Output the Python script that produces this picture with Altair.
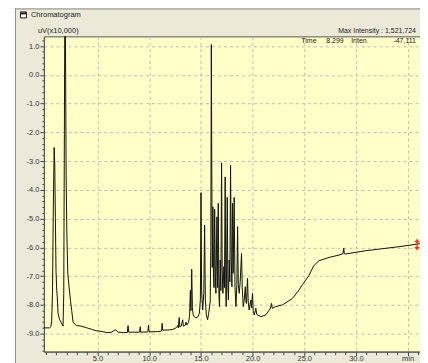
import altair as alt
import pandas as pd

# ---- chromatogram data (time in min, intensity in uV x10,000) ----
times = [
    -0.19, 0.35, 0.48, 0.56, 0.64, 0.72, 0.80, 0.86, 0.92, 0.98, 1.05, 1.10, 1.18, 1.32, 1.50,
    1.66, 1.73, 1.79, 1.84, 1.90, 1.96, 2.03, 2.12, 2.25, 2.38, 2.50, 2.63, 2.95, 3.30, 3.90,
    4.50, 4.90, 5.50, 5.90, 6.30, 6.55, 6.75, 7.00, 7.50, 7.88, 7.95, 8.02, 8.60, 9.07, 9.13,
    9.19, 9.87, 9.93, 9.99, 10.80, 11.19, 11.25, 11.31, 11.96, 12.30, 12.60, 12.76, 12.82, 12.90, 12.96,
    13.10, 13.24, 13.30, 13.50, 13.56, 13.62, 13.80, 13.90, 13.98, 14.04, 14.11, 14.18, 14.25, 14.36, 14.50,
    14.70, 14.85, 14.95, 15.01, 15.07, 15.17, 15.28, 15.36, 15.43, 15.52, 15.65, 15.75, 15.90, 15.96, 16.01,
    16.05, 16.10, 16.16, 16.22, 16.27, 16.33, 16.40, 16.45, 16.55, 16.61, 16.68, 16.74, 16.80, 16.87, 16.93,
    17.00, 17.06, 17.13, 17.22, 17.28, 17.35, 17.41, 17.45, 17.55, 17.61, 17.66, 17.74, 17.80, 17.87, 17.94,
    18.00, 18.06, 18.12, 18.22, 18.30, 18.39, 18.48, 18.55, 18.62, 18.71, 18.80, 18.93, 19.00, 19.10, 19.20,
    19.30, 19.36, 19.41, 19.51, 19.58, 19.67, 19.75, 19.83, 19.90, 19.99, 20.06, 20.16, 20.32, 20.40, 20.48,
    20.80, 21.28, 21.70, 21.76, 21.83, 21.90, 22.24, 22.89, 23.85, 24.50, 24.82, 25.45, 25.90, 26.40, 27.40,
    28.36, 28.75, 28.82, 28.88, 29.00, 30.90, 32.50, 34.10, 35.70, 36.20,
]
intensity = [
    -8.80, -8.80, -8.76, -8.58, -7.60, -4.60, -2.53, -3.10, -5.00, -6.80, -7.50, -7.70, -8.30, -8.50, -8.63,
    -8.74, -7.60, -2.00, 3.00, 1.00, -3.50, -5.50, -6.90, -7.40, -7.85, -8.20, -8.60, -8.72, -8.73, -8.79,
    -8.86, -8.90, -8.93, -8.96, -8.96, -8.90, -8.87, -8.95, -8.96, -8.96, -8.72, -8.95, -8.95, -8.95, -8.76,
    -8.95, -8.94, -8.71, -8.94, -8.93, -8.91, -8.64, -8.88, -8.87, -8.85, -8.80, -8.72, -8.80, -8.44, -8.77,
    -8.74, -8.52, -8.74, -8.70, -8.60, -8.70, -8.62, -8.40, -7.50, -8.20, -6.76, -8.10, -8.35, -8.41, -8.45,
    -8.42, -8.30, -7.80, -4.10, -7.50, -8.18, -7.60, -5.23, -7.80, -8.35, -8.52, -8.30, -7.90, -6.00, 1.05,
    -3.00, -6.70, -4.59, -6.90, -7.40, -4.67, -7.00, -7.60, -4.94, -7.40, -4.47, -7.60, -8.06, -6.44, -7.50,
    -3.06, -6.80, -7.60, -6.67, -7.40, -3.55, -7.50, -8.06, -4.26, -7.40, -7.83, -6.44, -7.20, -3.15, -6.50,
    -7.37, -4.47, -6.90, -4.26, -7.40, -8.06, -7.30, -5.28, -7.30, -7.60, -7.20, -6.21, -7.40, -8.06, -7.80,
    -7.37, -7.90, -7.95, -7.08, -7.90, -8.18, -8.00, -7.83, -8.10, -7.60, -8.20, -8.35, -8.12, -8.33, -8.35,
    -8.41, -8.35, -8.14, -8.05, -7.95, -8.12, -8.06, -8.00, -7.78, -7.48, -7.30, -6.98, -6.65, -6.47, -6.35,
    -6.27, -6.22, -6.03, -6.22, -6.23, -6.12, -6.05, -5.98, -5.90, -5.87,
]

cursor_times = [35.92, 35.92]
cursor_values = [-5.80, -6.01]

x_tick_values = list(range(0, 37))
y_tick_values = [round(-9.6 + 0.2 * i, 1) for i in range(55)]

X_DOMAIN = [-0.19, 36.2]
Y_DOMAIN = [-9.625, 1.337]
W, H = 377, 316
FONT = "Liberation Sans"

df = pd.DataFrame({"t": times, "v": intensity})
cur = pd.DataFrame({"t": cursor_times, "v": cursor_values})
one = pd.DataFrame({"a": [0]})

xscale = alt.Scale(domain=X_DOMAIN, nice=False, zero=False)
yscale = alt.Scale(domain=Y_DOMAIN, nice=False, zero=False)

x_major = "datum.value % 5 == 0 && datum.value > 0"
y_major = "abs(datum.value - round(datum.value)) < 0.001"

x_axis = alt.Axis(
    values=x_tick_values,
    tickCount=500,
    title=None,
    labelExpr="datum.value == 35 ? 'min' : ((datum.value % 5 == 0 && datum.value > 0) ? format(datum.value, '.1f') : '')",
    labelOverlap=False,
    labelFlush=False,
    labelFont=FONT, labelFontSize=7.5, labelColor="#333333", labelPadding=-1,
    tickSize={"condition": {"test": x_major, "value": 4}, "value": 3},
    tickColor="#444444",
    grid=True,
    gridDash=[3, 3], gridColor="#bdbdbd",
    gridOpacity={"condition": {"test": x_major, "value": 1}, "value": 0},
    domainColor="#555555",
)
y_axis = alt.Axis(
    values=y_tick_values,
    tickCount=500,
    title=None,
    labelExpr="abs(datum.value - round(datum.value)) < 0.001 ? ((datum.value < -0.001 ? '-' : '') + format(abs(datum.value), '.1f')) : ''",
    labelOverlap=False,
    labelFlush=False,
    labelFont=FONT, labelFontSize=7.5, labelColor="#333333", labelPadding=1,
    tickSize={"condition": {"test": y_major, "value": 4}, "value": 2},
    tickColor="#444444",
    grid=True,
    gridDash=[3, 3], gridColor="#bdbdbd",
    gridOpacity={"condition": {"test": y_major, "value": 1}, "value": 0},
    domainColor="#555555",
)

line = alt.Chart(df).mark_line(color="#111111", strokeWidth=1, clip=True).encode(
    x=alt.X("t:Q", scale=xscale, axis=x_axis),
    y=alt.Y("v:Q", scale=yscale, axis=y_axis),
)

cursor = alt.Chart(cur).mark_point(
    shape="M-1,0H1M0,-1V1", filled=False, color="#ff2020", size=22, strokeWidth=1.5, opacity=1
).encode(x=alt.X("t:Q", scale=xscale), y=alt.Y("v:Q", scale=yscale))

# ---- window decoration (frame, title bar) ----
white_left = alt.Chart(one).mark_rect(color="white").encode(
    x=alt.value(-36), x2=alt.value(-29), y=alt.value(-28), y2=alt.value(H + 12)
)
border_left = alt.Chart(one).mark_rule(color="#8c8c8c", strokeWidth=1).encode(
    x=alt.value(-28.5), y=alt.value(-28), y2=alt.value(H + 12)
)
border_top = alt.Chart(one).mark_rule(color="#8c8c8c", strokeWidth=1).encode(
    x=alt.value(-29), x2=alt.value(W + 8), y=alt.value(-27.5)
)
icon = alt.Chart(one).mark_rect(fill="white", stroke="#222222", strokeWidth=1).encode(
    x=alt.value(-23.5), x2=alt.value(-17.5), y=alt.value(-24.5), y2=alt.value(-18.5)
)
icon_bar = alt.Chart(one).mark_rule(color="#222222", strokeWidth=2).encode(
    x=alt.value(-23.5), x2=alt.value(-17.5), y=alt.value(-23)
)


def label(text, x, y, align="left", size=7.5):
    return alt.Chart(one).mark_text(
        text=text, align=align, baseline="alphabetic", font=FONT, fontSize=size, color="#222222"
    ).encode(x=alt.value(x), y=alt.value(y))


texts = [
    label("Chromatogram", -13, -19),
    label("uV(x10,000)", -6, -3),
    label("Max Intensity : 1,521,724", 373, -3.5, "right", 7),
    label("Time", 258, 6.5, size=7),
    label("8.299", 283, 6.5, size=7),
    label("Inten.", 308, 6.5, size=7),
    label("-47,111", 373, 6.5, "right", 7),
]

chart = alt.layer(
    white_left, border_left, border_top, icon, icon_bar, line, cursor, *texts
).properties(
    width=W, height=H,
    background="#ECE9D8",
    padding={"left": 36, "top": 28, "right": 0, "bottom": 11},
    autosize=alt.AutoSizeParams(type="none"),
).configure_view(
    fill="#FFFFC8", stroke="#555555", strokeWidth=1
)

chart.save("out.html", embed_options={"renderer": "svg", "actions": False})
